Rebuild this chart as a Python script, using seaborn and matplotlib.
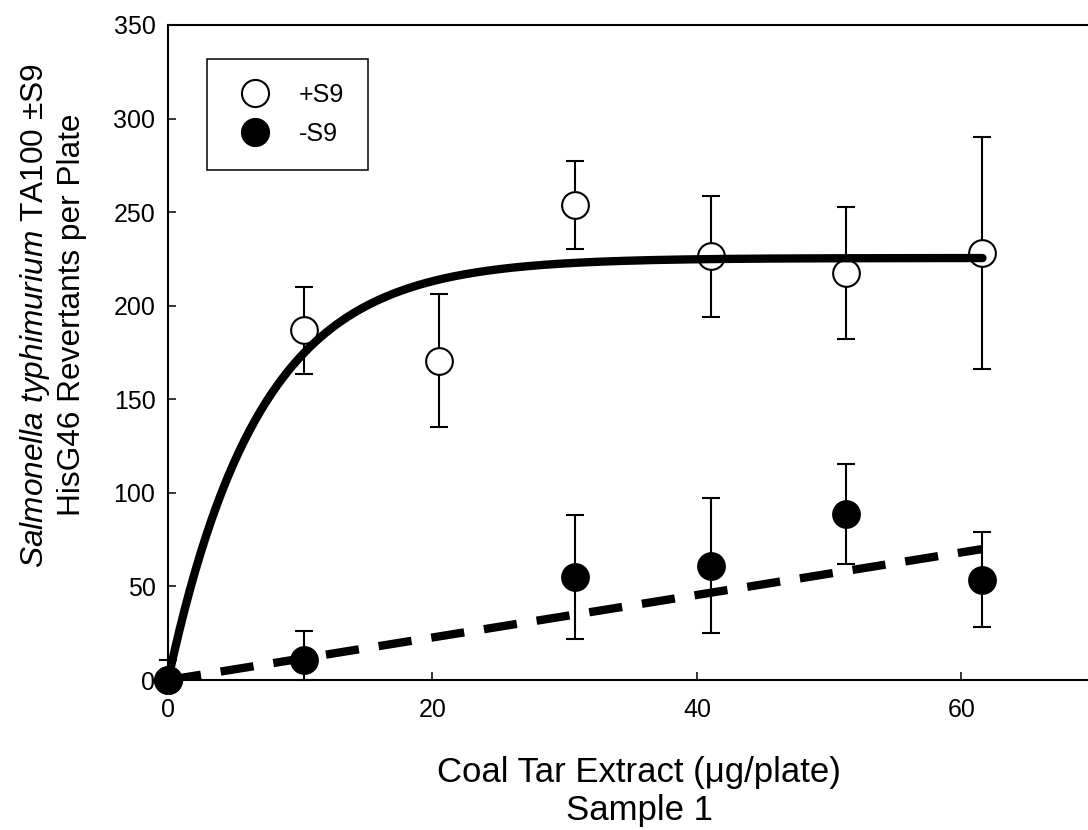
import numpy as np
import matplotlib
matplotlib.use("Agg")
import matplotlib.pyplot as plt
import seaborn as sns
from matplotlib.lines import Line2D

# Coal tar extract dose (ug/plate)
dose_plus = [0, 10.3, 20.5, 30.8, 41.1, 51.3, 61.6]
dose_minus = [0, 10.3, 30.8, 41.1, 51.3, 61.6]

# Revertants per plate, mean and SD
plus_s9_mean = [0, 186.8, 170.6, 254.0, 226.3, 217.3, 228.2]
plus_s9_sd = [10.7, 23.4, 35.4, 23.5, 32.4, 35.2, 62.2]
minus_s9_mean = [0, 10.7, 55.1, 61.0, 88.8, 53.7]
minus_s9_sd = [0, 15.6, 33.3, 36.0, 26.8, 25.6]

# Fitted responses
plus_fit_plateau = 225.5
plus_fit_rate = 0.145
plus_fit_xmax = 61.6
minus_fit_x = [0, 61.6]
minus_fit_y = [0, 70.0]

x_ticks = [0, 20, 40, 60]
y_ticks = [0, 50, 100, 150, 200, 250, 300, 350]
legend_labels = ["+S9", "-S9"]

sns.set_theme(style="ticks")
plt.rcParams["font.family"] = ["Liberation Sans", "DejaVu Sans"]
plt.rcParams["mathtext.fontset"] = "custom"
plt.rcParams["mathtext.rm"] = "Liberation Sans"
plt.rcParams["mathtext.it"] = "Liberation Sans:italic"
plt.rcParams["text.color"] = "black"
plt.rcParams["axes.labelcolor"] = "black"

fig = plt.figure(figsize=(10.88, 8.30), dpi=100)
ax = fig.add_axes([0.1544, 0.1807, 0.8507, 0.7892])

def draw_errors(x, mean, sd):
    mean = np.asarray(mean, float)
    sd = np.asarray(sd, float)
    lower = np.minimum(sd, mean)
    ax.errorbar(x, mean, yerr=[lower, sd], fmt="none", ecolor="black",
                elinewidth=1.5, capsize=6.5, capthick=1.5, clip_on=False,
                zorder=2)

draw_errors(dose_plus, plus_s9_mean, plus_s9_sd)
draw_errors(dose_minus, minus_s9_mean, minus_s9_sd)

sns.scatterplot(x=dose_plus, y=plus_s9_mean, ax=ax, marker="o", s=370,
                facecolor="white", edgecolor="black", linewidth=1.5,
                zorder=3, clip_on=False)
sns.scatterplot(x=dose_minus, y=minus_s9_mean, ax=ax, marker="o", s=370,
                facecolor="black", edgecolor="black", linewidth=1.5,
                zorder=5, clip_on=False)

# Saturating fit for +S9, linear fit for -S9
fx = np.linspace(0, plus_fit_xmax, 300)
fy = plus_fit_plateau * (1 - np.exp(-plus_fit_rate * fx))
sns.lineplot(x=fx, y=fy, ax=ax, color="black", linewidth=6, zorder=4,
             sort=False, estimator=None)
sns.lineplot(x=minus_fit_x, y=minus_fit_y, ax=ax, color="black", linewidth=6,
             linestyle=(0, (4, 2.4)), zorder=4, sort=False, estimator=None)

ax.set_xlim(0, 70)
ax.set_ylim(0, 350)
ax.set_xticks(x_ticks)
ax.set_yticks(y_ticks)
ax.tick_params(direction="in", length=6, width=1.1, labelsize=18,
               colors="black", pad=9)
ax.tick_params(axis="x", pad=13)
ax.spines["right"].set_visible(False)
for side in ("left", "top", "bottom"):
    ax.spines[side].set_linewidth(1.5)
    ax.spines[side].set_color("black")

ax.set_xlabel("Coal Tar Extract (\u03bcg/plate)\nSample 1", fontsize=25,
              color="black")
ax.xaxis.set_label_coords(0.509, -0.116)
ax.set_ylabel("$\\mathit{Salmonella\\ typhimurium}$ TA100 \u00b1S9\n"
              "HisG46 Revertants per Plate", fontsize=22.8, color="black")
ax.yaxis.set_label_coords(-0.0875, 0.557)

handles = [
    Line2D([], [], linestyle="none", marker="o", markersize=19.5,
           markerfacecolor="white", markeredgecolor="black", markeredgewidth=1.5),
    Line2D([], [], linestyle="none", marker="o", markersize=19.5,
           markerfacecolor="black", markeredgecolor="black", markeredgewidth=1.5),
]
leg = ax.legend(handles, legend_labels, loc="upper left",
                bbox_to_anchor=(0.0421, 0.948), frameon=True, fancybox=False,
                framealpha=1, edgecolor="black", fontsize=18, borderpad=0.95,
                labelspacing=0.6, handlelength=1.94, handletextpad=0.8,
                borderaxespad=0, numpoints=1, labelcolor="black")
leg.get_frame().set_linewidth(1.1)

fig.savefig("out.png", dpi=100, facecolor="white")
